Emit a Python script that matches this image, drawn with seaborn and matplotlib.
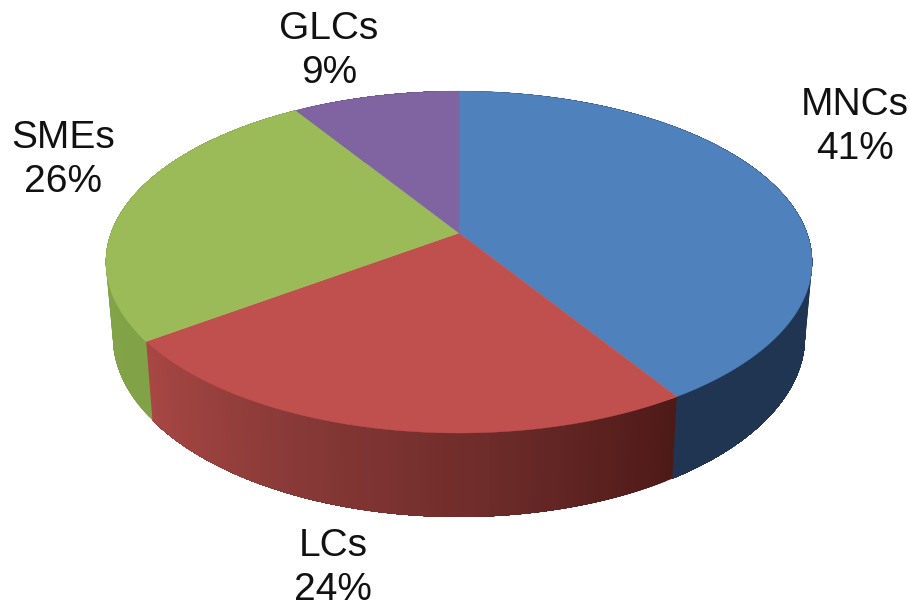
import numpy as np
import matplotlib
matplotlib.use("Agg")
import matplotlib.pyplot as plt
import seaborn as sns

labels = ["MNCs", "LCs", "SMEs", "GLCs"]
shares = [41, 24, 26, 9]
top_colors = ["#4F81BD", "#C0504D", "#9BBB59", "#8064A2"]
side_ramps = [["#1F3552", "#1F3552"], ["#A84744", "#8A3A38", "#6E2C2A", "#4E1A18"],
              ["#86A64C", "#82A248"], ["#5F4A7A", "#5F4A7A"]]
label_xy = [(855, 127), (333, 568), (63, 160), (329, 51)]

sns.set_theme(style="white")
plt.rcParams["font.family"] = ["Liberation Sans", "DejaVu Sans"]

# Perspective projection of a unit disc
CX, CY = 459, 233
BX, AY, K = 348, 166, 0.17
RIM_X, RIM_Y, RIM_D = 0.98, 1.055, 73


def project(theta):
    x, y = np.sin(theta), np.cos(theta)
    w = 1 + K * y
    return BX * x / w, -AY * y / w


def rim_top(theta):
    px, py = project(theta)
    return CX + px, CY + py


def rim_low(theta):
    px, py = project(theta)
    return CX + RIM_X * px, CY + RIM_D + RIM_Y * py


fig = plt.figure(figsize=(9.12, 6.09), dpi=100, facecolor="white")
ax = fig.add_axes([0, 0, 1, 1])
ax.set_xlim(0, 912)
ax.set_ylim(609, 0)
ax.axis("off")

edges = np.deg2rad(np.cumsum([0] + shares) * 3.6)
palette = sns.color_palette(top_colors)

# Sides: each strip runs on to the wedge's end, so the next one paints over
# it and no seams show. The gradient darkens towards the right.
for i in range(len(shares)):
    n = 80
    ramp = sns.blend_palette(side_ramps[i], n)
    ts = np.linspace(edges[i], edges[i + 1], n + 1)
    for j in range(n):
        t = np.linspace(ts[j], edges[i + 1], 60)
        xa, ya = rim_top(t)
        xb, yb = rim_low(t)
        ax.fill(np.r_[xa, xb[::-1]], np.r_[ya, yb[::-1]], color=ramp[n - 1 - j],
                lw=0, zorder=1)

# Top faces
for i in range(len(shares)):
    t = np.linspace(edges[i], edges[i + 1], 200)
    x, y = rim_top(t)
    ax.fill(np.r_[CX, x], np.r_[CY, y], color=palette[i], lw=0.3, zorder=2)

# Labels
for name, val, (lx, ly) in zip(labels, shares, label_xy):
    ax.text(lx, ly, f"{name}\n{val}%", ha="center", va="center", fontsize=28,
            color="#111111", linespacing=1.28, zorder=3)

fig.savefig("out.png", dpi=100, facecolor="white")
